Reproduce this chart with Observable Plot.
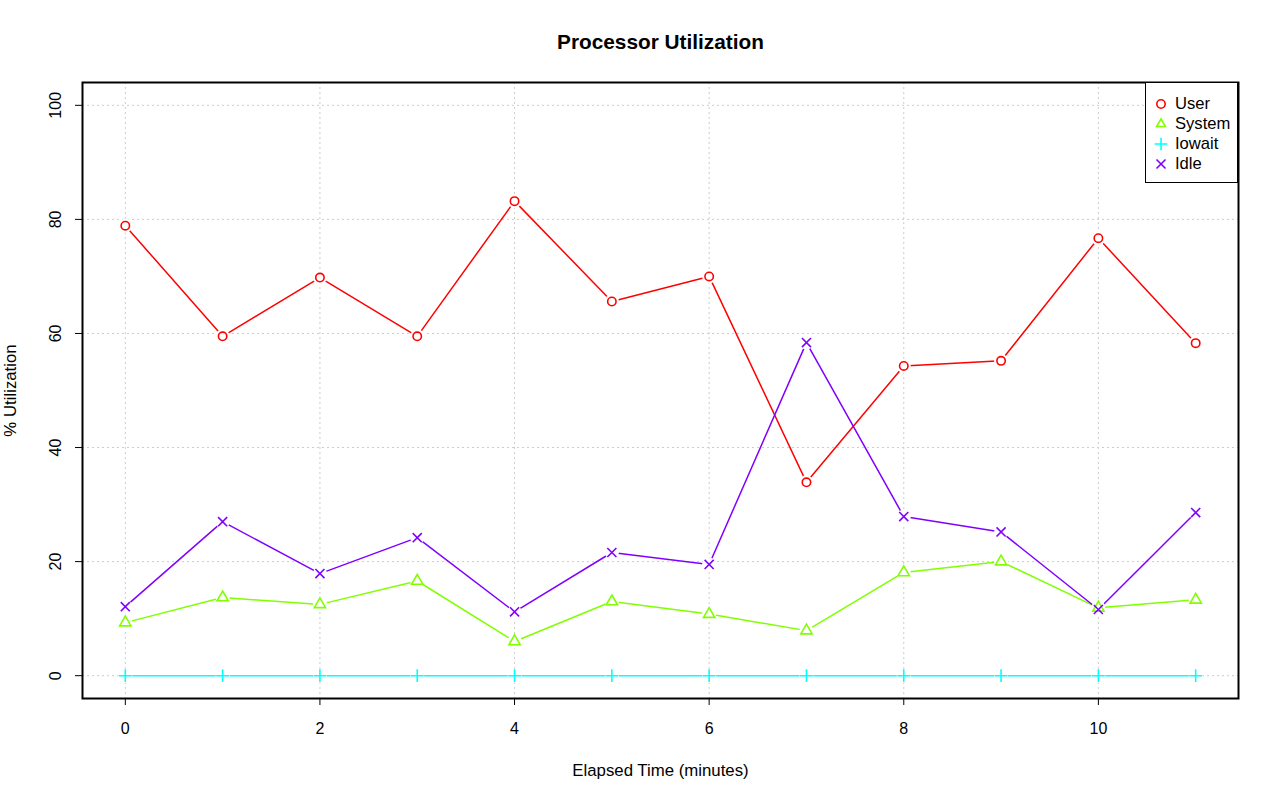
<!DOCTYPE html>
<html>
<head>
<meta charset="utf-8">
<script src="https://cdn.jsdelivr.net/npm/d3@7"></script>
<script src="https://cdn.jsdelivr.net/npm/@observablehq/plot@0.6"></script>
<style>
  body { margin: 0; background: #fff; font-family: "Liberation Sans", Arial, sans-serif; }
  #wrap { position: relative; width: 1280px; height: 801px; }
  #legend { position: absolute; left: 1145px; top: 82px; width: 91px; height: 99px;
            border: 1px solid #000; background: #fff; font-size: 16.6px; }
  #legend .row { position: absolute; left: 0; height: 20px; display: flex; align-items: center; }
  #legend svg { margin-left: 8px; }
  #legend span { margin-left: 7px; color: #000; }
</style>
</head>
<body>
<div id="wrap"><div id="legend"></div></div>
<script>
const minutes = [0, 1, 2, 3, 4, 5, 6, 7, 8, 9, 10, 11];
const user    = [78.9, 59.5, 69.8, 59.5, 83.2, 65.6, 70.0, 33.9, 54.3, 55.2, 76.7, 58.3];
const system  = [9.3, 13.7, 12.5, 16.6, 6.0, 13.0, 10.8, 7.9, 18.1, 20.0, 11.9, 13.3];
const iowait  = [0, 0, 0, 0, 0, 0, 0, 0, 0, 0, 0, 0];
const idle    = [12.1, 27.0, 17.9, 24.2, 11.2, 21.6, 19.5, 58.4, 27.9, 25.2, 11.6, 28.6];

const seriesNames = ["User", "System", "Iowait", "Idle"];
const seriesColors = ["#FF0000", "#80FF00", "#00FFFF", "#8000FF"];
const seriesSymbols = ["circle", "triangle", "plus", "times"];
const xTicks = [0, 2, 4, 6, 8, 10];
const yTicks = [0, 20, 40, 60, 80, 100];

const seriesValues = [user, system, iowait, idle];
const data = [];
seriesNames.forEach((name, i) => {
  minutes.forEach((m, j) => data.push({series: name, minute: m, value: seriesValues[i][j]}));
});

const chart = Plot.plot({
  width: 1280,
  height: 801,
  marginLeft: 82,
  marginRight: 42,
  marginTop: 82,
  marginBottom: 103,
  style: {fontFamily: '"Liberation Sans", Arial, sans-serif', fontSize: "16.8px", background: "#fff"},
  x: {domain: [-0.44, 11.44]},
  y: {domain: [-4, 104]},
  color: {domain: seriesNames, range: seriesColors},
  symbol: {domain: seriesNames, range: seriesSymbols},
  marks: [
    Plot.gridX(xTicks, {stroke: "#cccccc", strokeOpacity: 1, strokeDasharray: "2,3"}),
    Plot.gridY(yTicks, {stroke: "#cccccc", strokeOpacity: 1, strokeDasharray: "2,3"}),
    Plot.line(data, {x: "minute", y: "value", z: "series", stroke: "series", strokeWidth: 1.5}),
    Plot.dot(data, {x: "minute", y: "value", fill: "white", r: 7, stroke: null}),
    Plot.dot(data, {x: "minute", y: "value", symbol: "series", stroke: "series", r: 4.2, strokeWidth: 1.6}),
    Plot.frame({stroke: "black", strokeWidth: 2}),
    Plot.axisX(xTicks, {tickSize: 7, tickPadding: 17, fontSize: 16,
      label: "Elapsed Time (minutes)", labelAnchor: "center", labelArrow: "none", labelOffset: 77}),
    Plot.axisY(yTicks, {tickSize: 7, tickPadding: 15, fontSize: 16, tickRotate: -90,
      label: "% Utilization", labelAnchor: "center", labelArrow: "none", labelOffset: 78}),
    Plot.text(["Processor Utilization"], {frameAnchor: "top", dy: -40, fontSize: 20.8, fontWeight: "bold", fill: "black", lineAnchor: "middle"})
  ]
});
document.getElementById("wrap").prepend(chart);
d3.select(chart).selectAll("g[aria-label='x-axis label'], g[aria-label='y-axis label']")
  .attr("font-size", "16.8px").selectAll("text").attr("font-size", "16.8px");

// legend
const legend = d3.select("#legend");
const symMap = {circle: d3.symbolCircle, triangle: d3.symbolTriangle2, plus: d3.symbolPlus, times: d3.symbolTimes};
seriesNames.forEach((name, i) => {
  const row = legend.append("div").attr("class", "row").style("top", (11 + i * 20) + "px");
  const svg = row.append("svg").attr("width", 14).attr("height", 14);
  svg.append("path")
    .attr("transform", "translate(7,7)")
    .attr("d", d3.symbol(symMap[seriesSymbols[i]], 55)())
    .attr("fill", "none").attr("stroke", seriesColors[i]).attr("stroke-width", 1.6);
  row.append("span").text(name);
});
</script>
</body>
</html>
